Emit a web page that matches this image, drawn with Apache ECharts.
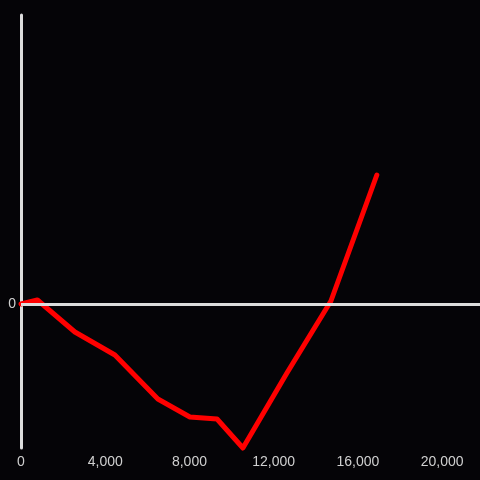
<!DOCTYPE html>
<html><head><meta charset="utf-8">
<script src="https://cdn.jsdelivr.net/npm/echarts@6/dist/echarts.min.js"></script>
<style>html,body{margin:0;padding:0;background:#050407;}#c{width:480px;height:480px;}</style>
</head><body><div id="c"></div>
<script>
var xValues = [0, 780, 2560, 4460, 6500, 8020, 9310, 10540, 12630, 14720, 16900];
var yValues = [0, 40, -280, -510, -950, -1130, -1150, -1440, -690, 30, 1290];
var xTicks = [0, 4000, 8000, 12000, 16000, 20000];
var yTicks = [0];

var chart = echarts.init(document.getElementById('c'));
chart.setOption({
  backgroundColor: '#050407',
  animation: false,
  grid: {left: 21, right: 0, top: 15, bottom: 32, containLabel: false},
  xAxis: {
    type: 'value', min: 0, max: 21800,
    axisLine: {show: false}, axisTick: {show: false}, splitLine: {show: false},
    axisLabel: {
      customValues: xTicks,
      color: '#d0d0d0', fontSize: 14, fontFamily: 'Liberation Sans', margin: 7,
      formatter: function (v) { return v.toLocaleString('en-US'); }
    }
  },
  yAxis: {
    type: 'value', min: -1440, max: 2890,
    axisLine: {show: true, lineStyle: {color: '#dcdcdc', width: 3}},
    axisTick: {show: false}, splitLine: {show: false},
    axisLabel: {customValues: yTicks, color: '#d0d0d0', fontSize: 14, fontFamily: 'Liberation Sans', margin: 5}
  },
  series: [{
    type: 'line',
    data: xValues.map(function (x, i) { return [x, yValues[i]]; }),
    symbol: 'none',
    clip: false,
    lineStyle: {color: '#ff0000', width: 5, join: 'round', cap: 'round'},
    markLine: {
      silent: true, symbol: 'none', label: {show: false},
      lineStyle: {color: '#dcdcdc', width: 3, type: 'solid'},
      data: [{yAxis: 0}]
    },
    z: 3
  }]
});
</script></body></html>
